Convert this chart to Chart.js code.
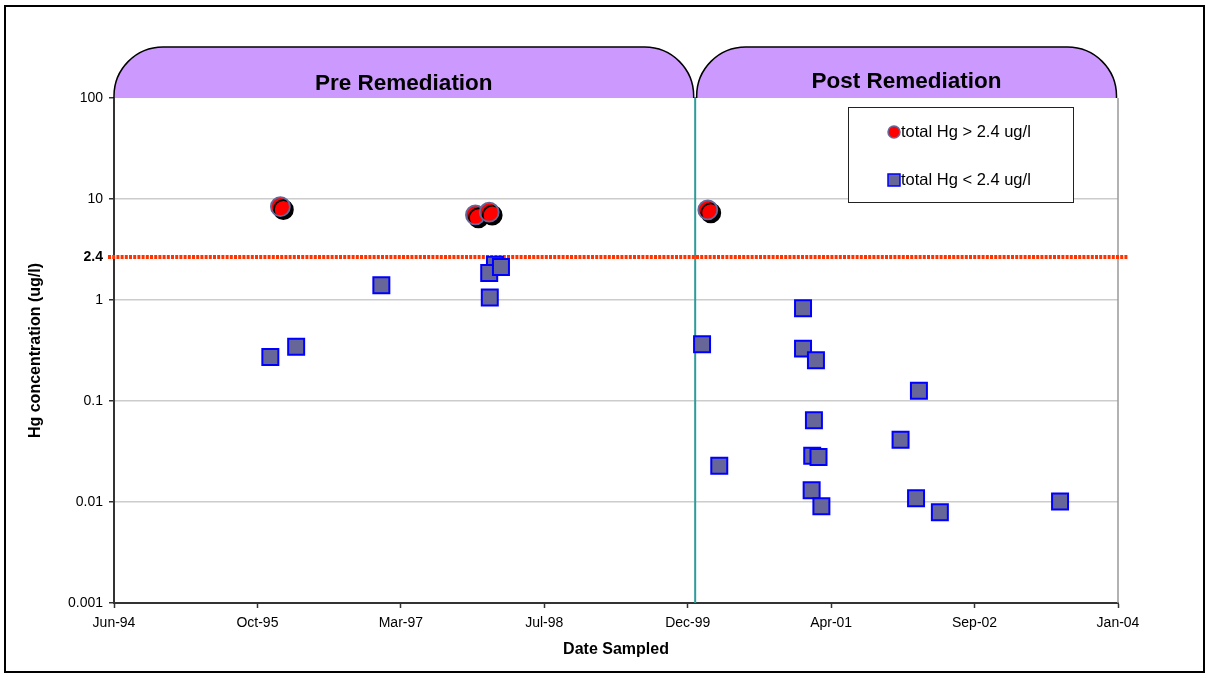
<!DOCTYPE html>
<html><head><meta charset="utf-8">
<script src="https://cdn.jsdelivr.net/npm/chart.js@4/dist/chart.umd.min.js"></script>
<style>html,body{margin:0;padding:0;background:#fff}canvas{display:block}</style>
</head><body><canvas id="c" width="1209" height="677"></canvas>
<script>
// ---- data ----
const aboveDates  = ['1996-01-16', '1997-11-26', '1998-01-13', '2000-02-14'];
const aboveValues = [8.4, 6.95, 7.4, 7.8];

const belowDates  = ['1995-12-12', '1996-03-11', '1997-01-02', '1998-02-02', '1998-01-13', '1998-02-23', '1998-01-15',
                     '2000-01-25', '2000-03-25', '2001-01-11', '2001-01-11', '2001-02-25', '2001-02-10', '2001-02-12',
                     '2001-03-06', '2001-02-18', '2001-03-16', '2001-12-17', '2002-02-09', '2002-02-19', '2002-05-03', '2003-06-26'];
const belowValues = [0.273, 0.345, 1.40, 2.24, 1.85, 2.12, 1.06,
                     0.364, 0.0229, 0.828, 0.330, 0.253, 0.0131, 0.0287,
                     0.0279, 0.0644, 0.0091, 0.0414, 0.0109, 0.1265, 0.0079, 0.0101];

const seriesLabels = ['total Hg > 2.4 ug/l', 'total Hg < 2.4 ug/l'];
const periodLabels = ['Pre Remediation', 'Post Remediation'];
const remediationDate = '2000-01-01';
const thresholdLabel = '2.4';
const thresholdLinePos = 2.66;
const xTickStart = '1994-06-15';
const xTickStepDays = 500;
const xTickCount = 8;
const yTickValues = [0.001, 0.01, 0.1, 1, 10, 100];
const xTitle = 'Date Sampled';
const yTitle = 'Hg concentration (ug/l)';

// ---- helpers ----
const DAY = 86400000;
const toMs = s => Date.parse(s + 'T00:00:00Z');
const MONTHS = ['Jan','Feb','Mar','Apr','May','Jun','Jul','Aug','Sep','Oct','Nov','Dec'];
const fmtDate = v => { const d = new Date(v); return MONTHS[d.getUTCMonth()] + '-' + String(d.getUTCFullYear() % 100).padStart(2, '0'); };
const xMin = toMs(xTickStart);
const xMax = xMin + (xTickCount - 1) * xTickStepDays * DAY;
const FONT = '"Liberation Sans", Arial, sans-serif';

const abovePts = aboveDates.map((d, i) => ({x: toMs(d), y: aboveValues[i]}));
const belowPts = belowDates.map((d, i) => ({x: toMs(d), y: belowValues[i]}));

const CIRCLE_FILL = '#FF0000', CIRCLE_EDGE = '#666699';
const SQUARE_FILL = '#666699', SQUARE_EDGE = '#0000FF';

const decor = {
  id: 'decor',
  beforeDraw(chart) {
    const ctx = chart.ctx;
    ctx.save();
    ctx.fillStyle = '#fff';
    ctx.fillRect(0, 0, chart.width, chart.height);
    ctx.restore();
  },
  beforeDatasetsDraw(chart) {
    const ctx = chart.ctx, xs = chart.scales.x, ys = chart.scales.y, a = chart.chartArea;
    ctx.save();
    ctx.strokeStyle = '#999';
    ctx.lineWidth = 1.5;
    ctx.beginPath(); ctx.moveTo(a.right, a.top); ctx.lineTo(a.right, a.bottom); ctx.stroke();
    const rx = xs.getPixelForValue(toMs(remediationDate));
    ctx.strokeStyle = '#2E9C9C';
    ctx.lineWidth = 2;
    ctx.beginPath(); ctx.moveTo(rx, a.top - 1); ctx.lineTo(rx, a.bottom); ctx.stroke();
    const ty = ys.getPixelForValue(thresholdLinePos);
    ctx.strokeStyle = '#FF3300';
    ctx.lineWidth = 4;
    ctx.setLineDash([3, 1.2]);
    ctx.beginPath(); ctx.moveTo(a.left - 6, ty); ctx.lineTo(a.right + 10, ty); ctx.stroke();
    ctx.setLineDash([]);
    ctx.restore();
  },
  beforeDatasetDraw(chart, args) {
    if (args.index === 0) {
      const ctx = chart.ctx;
      ctx.save();
      ctx.shadowColor = '#000';
      ctx.shadowOffsetX = 3;
      ctx.shadowOffsetY = 3;
      ctx.shadowBlur = 0;
    }
  },
  afterDatasetDraw(chart, args) {
    if (args.index === 0) chart.ctx.restore();
  },
  afterDraw(chart) {
    const ctx = chart.ctx, xs = chart.scales.x, ys = chart.scales.y, a = chart.chartArea;
    ctx.save();
    const rx = xs.getPixelForValue(toMs(remediationDate));
    const tabs = [[a.left, rx - 1.5], [rx + 1.5, a.right - 1.5]];
    const yB = a.top, yT = a.top - 51, r = 49;
    tabs.forEach((t, i) => {
      const [x0, x1] = t;
      ctx.beginPath();
      ctx.moveTo(x0, yB);
      ctx.lineTo(x0, yT + r);
      ctx.arcTo(x0, yT, x0 + r, yT, r);
      ctx.lineTo(x1 - r, yT);
      ctx.arcTo(x1, yT, x1, yT + r, r);
      ctx.lineTo(x1, yB);
      ctx.fillStyle = '#CC99FF';
      ctx.fill();
      ctx.strokeStyle = '#000';
      ctx.lineWidth = 1.5;
      ctx.stroke();
      ctx.fillStyle = '#000';
      ctx.font = 'bold 22.5px ' + FONT;
      ctx.textAlign = 'center';
      ctx.textBaseline = 'middle';
      ctx.fillText(periodLabels[i], (x0 + x1) / 2, i === 0 ? 84 : 82);
    });
    const ty = ys.getPixelForValue(thresholdLinePos);
    ctx.font = 'bold 14px ' + FONT;
    ctx.textAlign = 'right';
    ctx.textBaseline = 'middle';
    ctx.fillStyle = '#000';
    ctx.fillText(thresholdLabel, a.left - 11, ty);
    // legend
    const lx = 848, ly = 107, lw = 225, lh = 95;
    ctx.fillStyle = '#fff';
    ctx.fillRect(lx, ly, lw, lh);
    ctx.strokeStyle = '#222';
    ctx.lineWidth = 1;
    ctx.strokeRect(lx + 0.5, ly + 0.5, lw, lh);
    ctx.font = '16.5px ' + FONT;
    ctx.textAlign = 'left';
    ctx.beginPath(); ctx.arc(894, 132, 6, 0, Math.PI * 2);
    ctx.fillStyle = CIRCLE_FILL; ctx.fill();
    ctx.strokeStyle = CIRCLE_EDGE; ctx.lineWidth = 1.5; ctx.stroke();
    ctx.fillStyle = '#000';
    ctx.fillText(seriesLabels[0], 901, 132);
    ctx.fillStyle = SQUARE_FILL; ctx.fillRect(888, 174, 12, 12);
    ctx.strokeStyle = SQUARE_EDGE; ctx.lineWidth = 1.5; ctx.strokeRect(888, 174, 12, 12);
    ctx.fillStyle = '#000';
    ctx.fillText(seriesLabels[1], 901, 180);
    // outer frame
    ctx.strokeStyle = '#000';
    ctx.lineWidth = 2;
    ctx.strokeRect(5, 6, 1199, 666);
    ctx.restore();
  }
};

const LEFT_PAD = 26;

new Chart(document.getElementById('c'), {
  type: 'scatter',
  data: {
    datasets: [
      { label: seriesLabels[0], data: abovePts, pointStyle: 'circle', pointRadius: 9.5, pointHoverRadius: 9.5,
        backgroundColor: CIRCLE_FILL, borderColor: CIRCLE_EDGE, borderWidth: 1.8 },
      { label: seriesLabels[1], data: belowPts, pointStyle: 'rect', pointRadius: 11.3, pointHoverRadius: 11.3,
        backgroundColor: SQUARE_FILL, borderColor: SQUARE_EDGE, borderWidth: 2 }
    ]
  },
  options: {
    responsive: false,
    animation: false,
    devicePixelRatio: 1,
    layout: { padding: { left: LEFT_PAD, right: 91, top: 98, bottom: 0 } },
    plugins: { legend: { display: false }, tooltip: { enabled: false } },
    scales: {
      x: {
        type: 'linear', min: xMin, max: xMax,
        afterBuildTicks: s => { s.ticks = Array.from({length: xTickCount}, (_, i) => ({ value: xMin + i * xTickStepDays * DAY })); },
        ticks: { callback: v => fmtDate(v), font: { family: FONT, size: 14 }, color: '#000', padding: 7, maxRotation: 0, autoSkip: false },
        grid: { drawOnChartArea: false, drawTicks: true, tickLength: 5, tickColor: '#333', tickWidth: 1.5 },
        border: { color: '#333', width: 2 },
        title: { display: true, text: xTitle, color: '#000', font: { family: FONT, size: 16, weight: 'bold' }, padding: { top: 0, bottom: 18 } },
        afterFit: s => { s.height = 74; }
      },
      y: {
        type: 'logarithmic', min: 0.001, max: 100,
        afterBuildTicks: s => { s.ticks = yTickValues.map(v => ({ value: v, major: true })); },
        ticks: { callback: v => String(v), font: { family: FONT, size: 14 }, color: '#000', padding: 6, autoSkip: false },
        grid: {
          color: c => (c.tick && (c.tick.value === 100 || c.tick.value === 0.001)) ? 'rgba(0,0,0,0)' : '#CCCCCC',
          lineWidth: 1.5, drawTicks: true, tickLength: 5, tickColor: '#333', tickWidth: 1.5
        },
        border: { color: '#333', width: 2 },
        title: { display: true, text: yTitle, color: '#000', font: { family: FONT, size: 16, weight: 'bold' }, padding: { top: 0, bottom: 0 } },
        afterFit: s => { s.width = 114 - LEFT_PAD; }
      }
    }
  },
  plugins: [decor]
});
</script>
</body></html>
